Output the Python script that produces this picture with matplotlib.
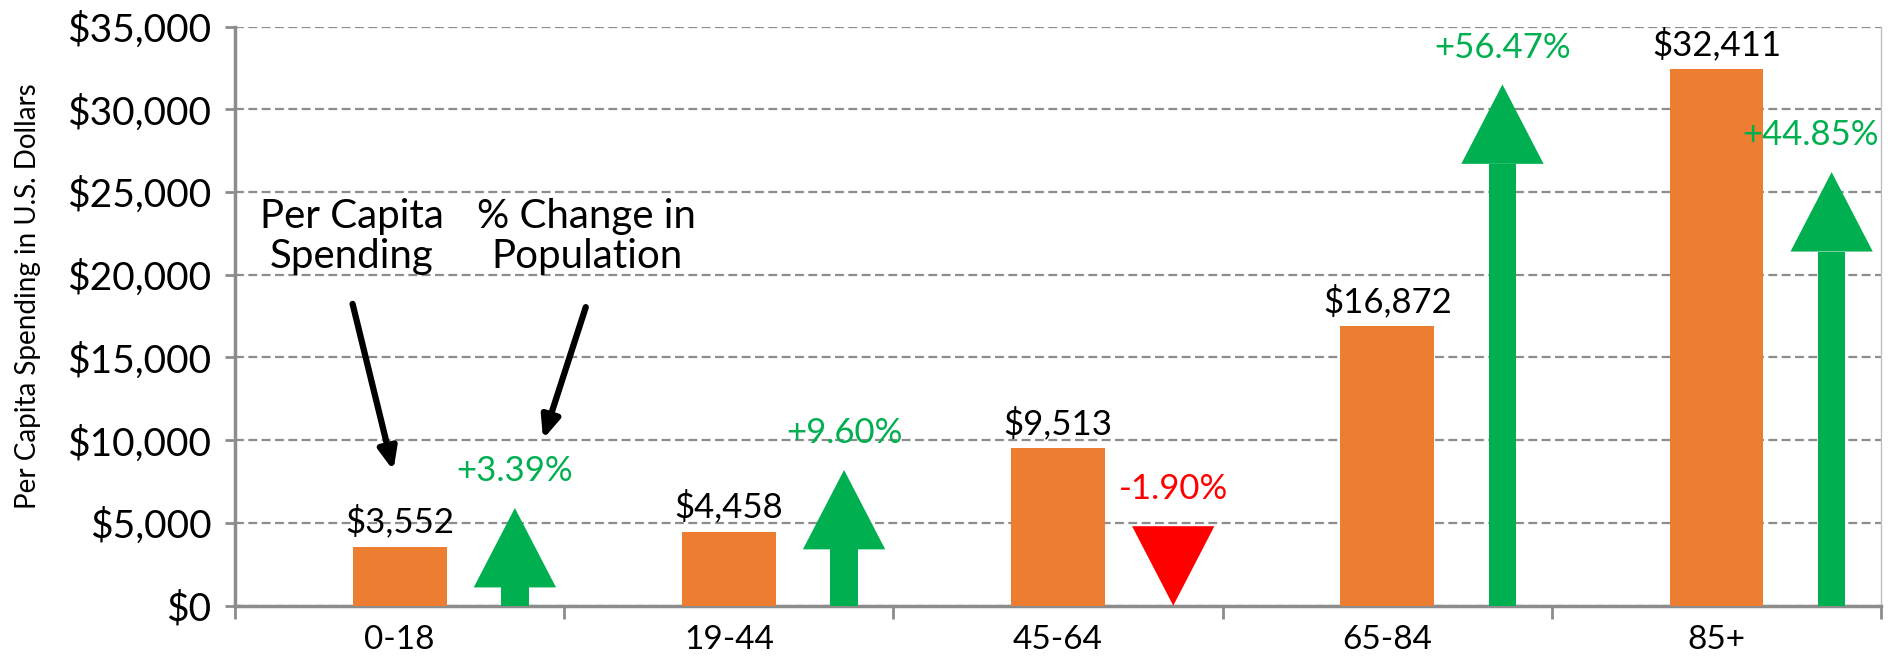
import numpy as np
import matplotlib
matplotlib.use('Agg')
import matplotlib.pyplot as plt
from matplotlib.patches import Polygon

plt.rcParams['font.family'] = ['Lato', 'DejaVu Sans']

# data
age_groups = ['0-18', '19-44', '45-64', '65-84', '85+']
spending = [3552, 4458, 9513, 16872, 32411]
pop_change = [3.39, 9.60, -1.90, 56.47, 44.85]
# arrow tip height (in the dollar scale) as drawn in the picture
arrow_tip = [5900, 8200, 0, 31500, 26200]

orange = '#ED7D31'
green = '#00B050'
red = '#FF0000'
grey = '#8C8C8C'

fig = plt.figure(figsize=(18.88, 6.58), dpi=100)
ax = fig.add_axes([0.1245, 0.0796, 0.8718, 0.8801])

x = np.arange(len(age_groups))
ax.bar(x, spending, width=0.285, color=orange, zorder=3)

# value labels on bars
for xi, v in zip(x, spending):
    ax.annotate(f'${v:,}', (xi, v), xytext=(0, 6), textcoords='offset points',
                ha='center', va='bottom', fontsize=25, color='black')

# population change arrows
off = 0.35
head_h = 4800
head_w = 0.25
shaft_w = 0.084
pct_texts = []
for xi, pc, tip in zip(x, pop_change, arrow_tip):
    ax_x = xi + off
    if pc >= 0:
        base = tip - head_h
        ax.add_patch(Polygon([[ax_x - shaft_w / 2, 0], [ax_x + shaft_w / 2, 0],
                              [ax_x + shaft_w / 2, base], [ax_x - shaft_w / 2, base]],
                             closed=True, color=green, zorder=3, lw=0))
        ax.add_patch(Polygon([[ax_x - head_w / 2, base], [ax_x + head_w / 2, base],
                              [ax_x, tip]], closed=True, color=green, zorder=3, lw=0))
        top = tip
        col = green
        txt = f'+{pc:.2f}%'
    else:
        top = tip + head_h
        ax.add_patch(Polygon([[ax_x - head_w / 2, top], [ax_x + head_w / 2, top],
                              [ax_x, tip]], closed=True, color=red, zorder=3, lw=0))
        col = red
        txt = f'{pc:.2f}%'
    t = ax.annotate(txt, (ax_x, top), xytext=(0, 15), textcoords='offset points',
                    ha='center', va='bottom', fontsize=25, color=col, zorder=4)
    pct_texts.append(t)

# explanatory notes with arrows
ax.text(-0.145, 22300, 'Per Capita\nSpending', ha='center', va='center',
        fontsize=29, linespacing=1.1)
ax.text(0.568, 22300, '% Change in\nPopulation', ha='center', va='center',
        fontsize=29, linespacing=1.1)
ax.annotate('', xy=(-0.017, 8000), xytext=(-0.145, 18400),
            arrowprops=dict(arrowstyle='-|>,head_length=1.3,head_width=0.55',
                            lw=4.5, color='black'))
ax.annotate('', xy=(0.433, 9900), xytext=(0.568, 18200),
            arrowprops=dict(arrowstyle='-|>,head_length=1.3,head_width=0.55',
                            lw=4.5, color='black'))

# axes styling
ax.set_xlim(-0.5, len(age_groups) - 0.5)
ax.set_ylim(0, 35000)
ax.set_yticks(np.arange(0, 35001, 5000))
ax.set_yticklabels([f'${v:,}' for v in range(0, 35001, 5000)], fontsize=28)
ax.set_xticks(np.arange(-0.5, len(age_groups), 1))
ax.set_xticklabels([])
ax.set_xticks(x, minor=True)
ax.set_xticklabels(age_groups, minor=True, fontsize=24)
ax.tick_params(axis='x', which='major', length=9, width=2, color=grey, direction='out')
ax.tick_params(axis='x', which='minor', length=0, pad=14)
ax.tick_params(axis='y', length=7, width=2, color=grey, pad=10)
ax.set_ylabel('Per Capita Spending in U.S. Dollars', fontsize=20)
ax.yaxis.set_label_coords(-0.118, 0.535)

ax.yaxis.grid(True, linestyle=(0, (4, 2)), color=grey, lw=1.6, zorder=0)
ax.set_axisbelow(True)
ax.spines['top'].set_visible(False)
ax.spines['left'].set_color(grey)
ax.spines['left'].set_linewidth(2.5)
ax.spines['bottom'].set_color(grey)
ax.spines['bottom'].set_linewidth(2.5)
ax.spines['right'].set_color('#BFBFBF')
ax.spines['right'].set_linewidth(1)

# keep percent labels inside the plot area on the right
fig.canvas.draw()
renderer = fig.canvas.get_renderer()
ax_right = ax.get_window_extent(renderer).x1
for t in pct_texts:
    bb = t.get_window_extent(renderer)
    if bb.x1 > ax_right:
        dx_pts = (bb.x1 - ax_right + 2) * 72 / fig.dpi
        t.set_position((-dx_pts, 15))

fig.savefig('out.png', dpi=100)
